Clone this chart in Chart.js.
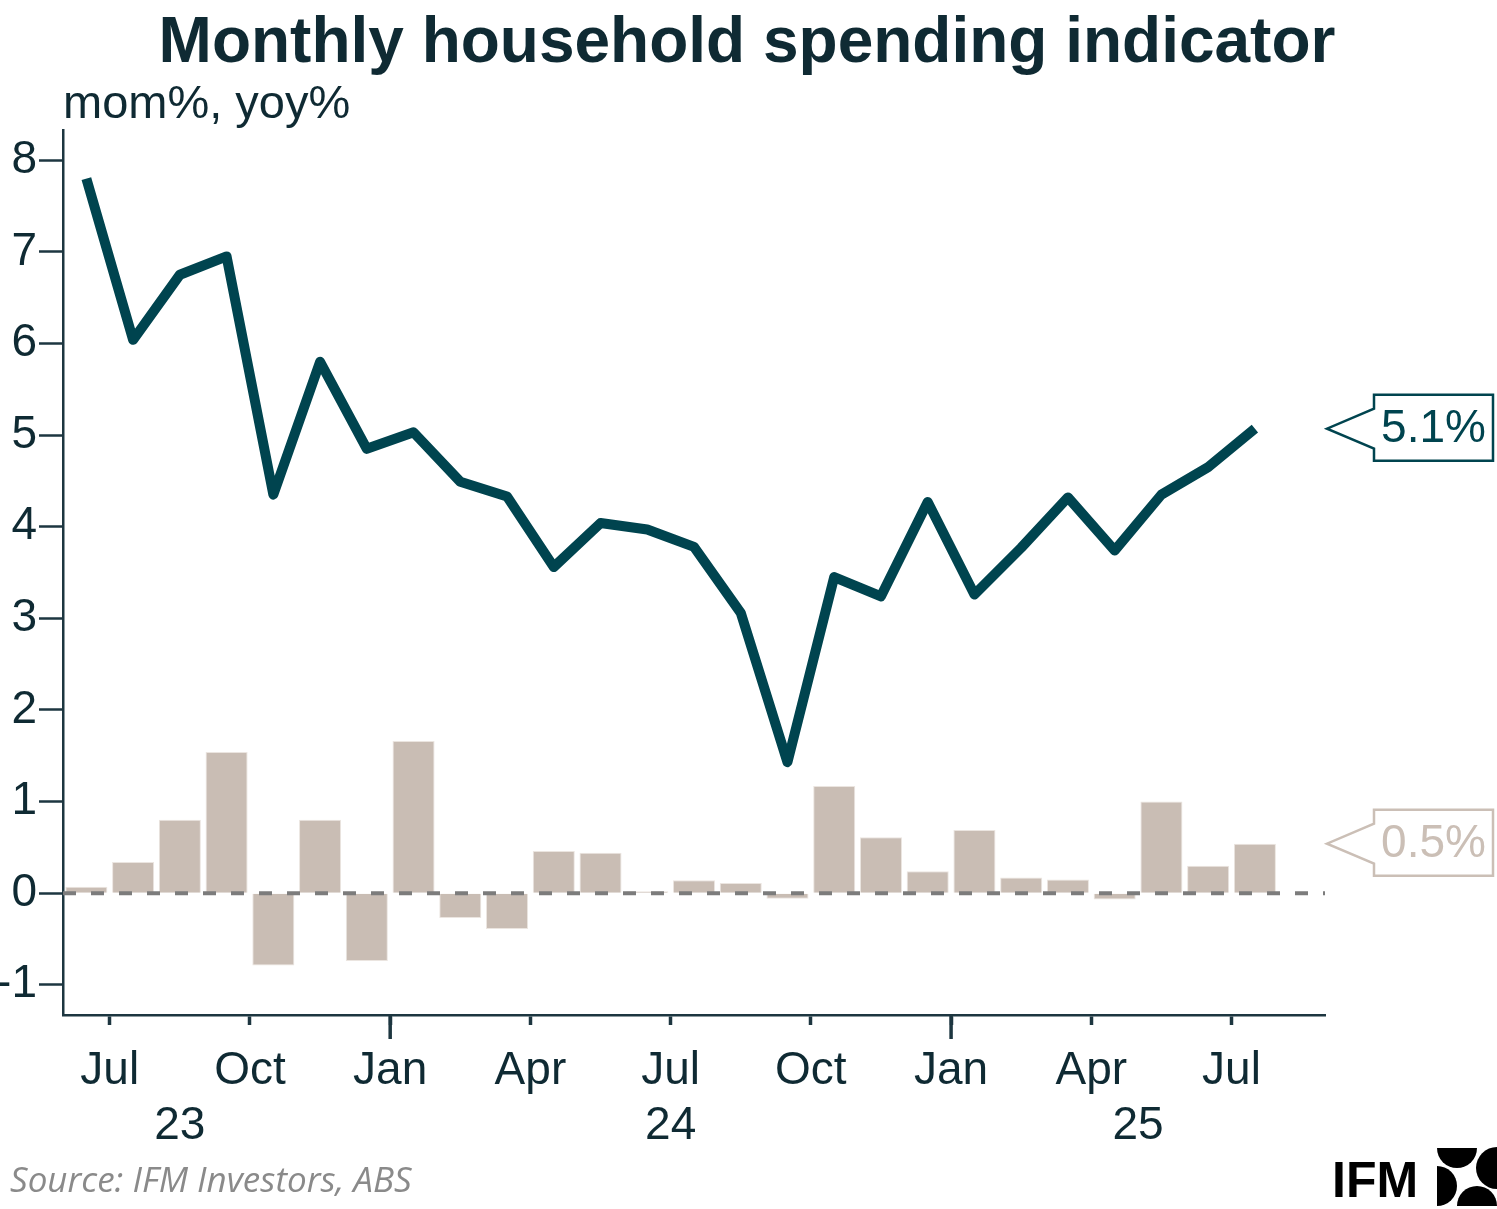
<!DOCTYPE html>
<html>
<head>
<meta charset="utf-8">
<script src="https://cdn.jsdelivr.net/npm/chart.js@4"></script>
<style>
  body { margin: 0; background: #fff; }
  #wrap { width: 1497px; height: 1209px; position: relative; }
</style>
</head>
<body>
<div id="wrap"><canvas id="spend"></canvas></div>
<script>
/* ---------- data ---------- */
const months = ['Jun 23', 'Jul 23', 'Aug 23', 'Sep 23', 'Oct 23', 'Nov 23', 'Dec 23',
  'Jan 24', 'Feb 24', 'Mar 24', 'Apr 24', 'May 24', 'Jun 24', 'Jul 24', 'Aug 24', 'Sep 24', 'Oct 24', 'Nov 24', 'Dec 24',
  'Jan 25', 'Feb 25', 'Mar 25', 'Apr 25', 'May 25', 'Jun 25', 'Jul 25'];
const yoy = [7.8, 6.04, 6.75, 6.95, 4.35, 5.8, 4.85, 5.03, 4.49, 4.33, 3.56, 4.04, 3.97,
  3.78, 3.06, 1.43, 3.45, 3.24, 4.27, 3.26, 3.77, 4.32, 3.74, 4.35, 4.65, 5.07];
const mom = [0.07, 0.34, 0.8, 1.54, -0.79, 0.8, -0.74, 1.66, -0.27, -0.39, 0.46, 0.44, 0.02,
  0.14, 0.11, -0.06, 1.17, 0.61, 0.24, 0.69, 0.17, 0.15, -0.07, 1.0, 0.3, 0.54];
const quarterMonths = ['Jul', 'Oct', 'Jan', 'Apr'];
const yearLabels = ['23', '24', '25'];
const yearPos = [2.5, 13, 23];
const yTicks = [-1, 0, 1, 2, 3, 4, 5, 6, 7, 8];

/* ---------- colours ---------- */
const teal = '#00444f';
const sand = '#c9bdb4';
const sandText = '#cbbfb6';
const ink = '#0f2a33';
const axisCol = '#1d3640';

// month-start tick values for Jul/Oct/Jan/Apr
const qTicks = [];
months.forEach((m, i) => { if (quarterMonths.includes(m.slice(0, 3))) qTicks.push(i); });

const pts = arr => arr.map((v, i) => ({ x: i + 0.5, y: v }));

/* ---------- extras: titles, callouts, long Jan ticks, source, logo ---------- */
const extras = {
  id: 'extras',
  afterDraw(chart) {
    const c = chart.ctx;
    const x = chart.scales.x, y = chart.scales.y;
    c.save();
    // title + subtitle
    c.fillStyle = ink;
    c.textAlign = 'center';
    c.textBaseline = 'alphabetic';
    c.font = 'bold 64px "Liberation Sans", Arial, sans-serif';
    c.fillText('Monthly household spending indicator', 747, 62);
    c.font = '47px "Liberation Sans", Arial, sans-serif';
    c.textAlign = 'left';
    c.fillText('mom%, yoy%', 63, 118);

    // longer ticks at January
    c.strokeStyle = axisCol;
    c.lineWidth = 3.5;
    qTicks.forEach(t => {
      if (months[t].startsWith('Jan')) {
        const px = x.getPixelForValue(t);
        c.beginPath();
        c.moveTo(px, x.top);
        c.lineTo(px, x.top + 24);
        c.stroke();
      }
    });

    // callouts
    const callout = (val, col) => {
      const cy = y.getPixelForValue(val);
      const l = 1374, r = 1493, tip = 1327;
      c.beginPath();
      c.moveTo(l, cy - 20);
      c.lineTo(l, cy - 34);
      c.lineTo(r, cy - 34);
      c.lineTo(r, cy + 32);
      c.lineTo(l, cy + 32);
      c.lineTo(l, cy + 20);
      c.lineTo(tip, cy);
      c.closePath();
      c.fillStyle = '#fff';
      c.fill();
      c.strokeStyle = col;
      c.lineWidth = 2.5;
      c.stroke();
      c.fillStyle = col;
      c.font = '46px "Liberation Sans", Arial, sans-serif';
      c.textAlign = 'center';
      c.textBaseline = 'middle';
      c.fillText(val.toFixed(1) + '%', (l + r) / 2, cy + 1);
    };
    callout(yoy[yoy.length - 1], teal);
    callout(mom[mom.length - 1], sandText);

    // source
    c.fillStyle = '#8a8a8a';
    c.font = 'italic 35px "Open Sans", sans-serif';
    c.textAlign = 'left';
    c.textBaseline = 'alphabetic';
    c.fillText('Source: IFM Investors, ABS', 10, 1192);

    // logo
    c.fillStyle = '#000';
    c.font = 'bold 50px "Liberation Sans", Arial, sans-serif';
    c.fillText('IFM', 1332, 1197);
    c.beginPath(); c.arc(1457, 1148, 20, 0, Math.PI); c.fill();
    c.beginPath(); c.arc(1497, 1168, 21, Math.PI / 2, Math.PI * 1.5); c.fill();
    c.beginPath(); c.arc(1437, 1186, 20, -Math.PI / 2, Math.PI / 2); c.fill();
    c.beginPath(); c.arc(1477, 1206, 20, Math.PI, Math.PI * 2); c.fill();
    c.restore();
  }
};

const tickFont = { family: '"Liberation Sans", Arial, sans-serif', size: 46 };

new Chart(document.getElementById('spend'), {
  type: 'bar',
  data: {
    datasets: [
      {
        type: 'line',
        label: 'yoy%',
        data: pts(yoy),
        borderColor: teal,
        borderWidth: 10,
        pointRadius: 0,
        tension: 0,
        borderJoinStyle: 'round',
        borderCapStyle: 'butt',
        order: 0
      },
      {
        type: 'line',
        label: 'zero',
        data: [{ x: 0, y: 0 }, { x: 27, y: 0 }],
        borderColor: '#7c7c7c',
        borderWidth: 4,
        borderDash: [13, 15],
        pointRadius: 0,
        order: 1
      },
      {
        type: 'bar',
        label: 'mom%',
        data: pts(mom),
        backgroundColor: sand,
        borderColor: '#ebe5e0',
        borderWidth: 1,
        barPercentage: 0.9,
        categoryPercentage: 1,
        order: 2
      }
    ]
  },
  options: {
    responsive: true,
    maintainAspectRatio: false,
    animation: false,
    devicePixelRatio: 1,
    layout: { padding: { left: 0, right: 172, top: 130, bottom: 50 } },
    plugins: {
      legend: { display: false },
      tooltip: { enabled: false },
      title: { display: false }
    },
    scales: {
      x: {
        type: 'linear',
        offset: false,
        min: 0,
        max: 27,
        afterBuildTicks: s => { s.ticks = qTicks.map(v => ({ value: v })); },
        afterFit: s => { s.height = 84; },
        ticks: {
          autoSkip: false,
          maxRotation: 0,
          padding: 19,
          color: ink,
          font: tickFont,
          callback: (v, i) => months[qTicks[i]].slice(0, 3)
        },
        grid: { offset: false, drawOnChartArea: false, tickLength: 10, tickWidth: 3.5, tickColor: axisCol },
        border: { color: axisCol, width: 2.5 }
      },
      xYear: {
        type: 'linear',
        position: 'bottom',
        offset: false,
        min: 0,
        max: 27,
        afterBuildTicks: s => { s.ticks = yearPos.map(v => ({ value: v })); },
        afterFit: s => { s.height = 60; },
        ticks: {
          autoSkip: false,
          maxRotation: 0,
          padding: 0,
          color: ink,
          font: tickFont,
          callback: (v, i) => yearLabels[i]
        },
        grid: { display: false, drawTicks: false, offset: false },
        border: { display: false }
      },
      y: {
        min: -1.33,
        max: 8.33,
        afterBuildTicks: s => { s.ticks = yTicks.map(v => ({ value: v })); },
        afterFit: s => { s.width = 63; },
        ticks: { padding: 2, color: ink, font: tickFont },
        grid: { drawOnChartArea: false, tickLength: 24, tickWidth: 2.5, tickColor: axisCol },
        border: { color: axisCol, width: 2.5 }
      }
    }
  },
  plugins: [extras]
});
</script>
</body>
</html>
